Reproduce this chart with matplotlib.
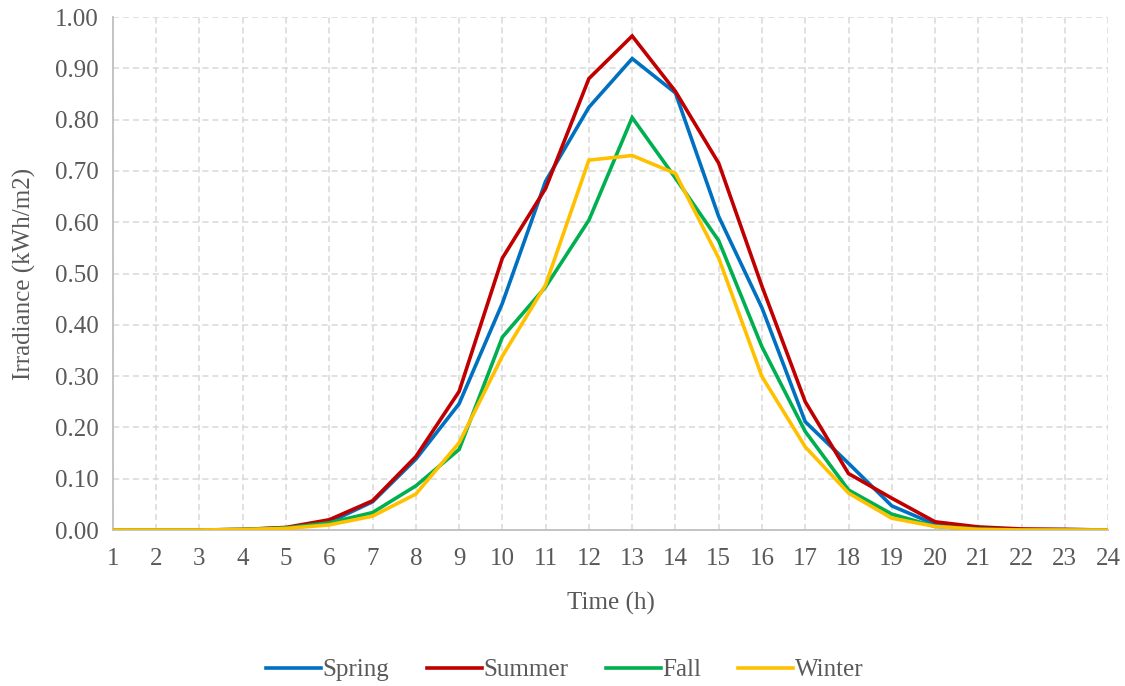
import matplotlib.pyplot as plt

hours = list(range(1, 25))

spring = [0.000, 0.000, 0.000, 0.001, 0.004, 0.015, 0.055, 0.138, 0.246, 0.442, 0.680, 0.824,
          0.919, 0.852, 0.611, 0.433, 0.211, 0.130, 0.047, 0.011, 0.004, 0.001, 0.001, 0.000]
summer = [0.000, 0.000, 0.000, 0.001, 0.005, 0.020, 0.057, 0.143, 0.270, 0.530, 0.666, 0.880,
          0.963, 0.855, 0.715, 0.475, 0.250, 0.110, 0.062, 0.016, 0.006, 0.002, 0.001, 0.000]
fall = [0.000, 0.000, 0.000, 0.001, 0.004, 0.014, 0.034, 0.086, 0.157, 0.376, 0.474, 0.604,
        0.804, 0.686, 0.564, 0.357, 0.192, 0.078, 0.031, 0.007, 0.002, 0.000, 0.000, 0.000]
winter = [0.000, 0.000, 0.000, 0.001, 0.003, 0.010, 0.027, 0.070, 0.170, 0.339, 0.478, 0.721,
          0.730, 0.695, 0.530, 0.299, 0.162, 0.072, 0.023, 0.007, 0.001, 0.000, 0.000, 0.000]

series = [("Spring", spring, "#0070C0"),
          ("Summer", summer, "#C00000"),
          ("Fall", fall, "#00B050"),
          ("Winter", winter, "#FFC000")]

plt.rcParams['font.family'] = ['Liberation Serif', 'DejaVu Serif']
text_color = "#595959"
fsize = 18

fig = plt.figure(figsize=(11.25, 6.86), dpi=100)
ax = fig.add_axes([0.1004, 0.2274, 0.8846, 0.7478])

for name, values, color in series:
    ax.plot(hours, values, color=color, linewidth=2.6, label=name,
            solid_joinstyle='miter', zorder=3)

ax.set_xlim(1, 24)
ax.set_ylim(0, 1)
ax.set_xticks(hours)
ax.set_yticks([i / 10 for i in range(11)])
ax.set_yticklabels([f"{i / 10:.2f}" for i in range(11)])

ax.grid(True, color="#d9d9d9", linestyle=(0, (4, 2.5)), linewidth=1.1, zorder=0)
for side in ["top", "right"]:
    ax.spines[side].set_visible(False)
for side in ["left", "bottom"]:
    ax.spines[side].set_color("#bfbfbf")
    ax.spines[side].set_linewidth(1.3)

ax.tick_params(axis='both', length=0, labelsize=fsize, labelcolor=text_color)
ax.tick_params(axis='x', pad=13)
ax.tick_params(axis='y', pad=10)

ax.set_xlabel("Time (h)", fontsize=fsize, color=text_color, labelpad=16)
ax.set_ylabel("Irradiance (kWh/m2)", fontsize=fsize, color=text_color, labelpad=14)

fig.legend(loc='lower center', bbox_to_anchor=(0.502, -0.026), ncol=4, frameon=False,
           fontsize=fsize, labelcolor=text_color, handlelength=2.2, handletextpad=0.05,
           columnspacing=1.5)

plt.savefig("out.png", dpi=100)
